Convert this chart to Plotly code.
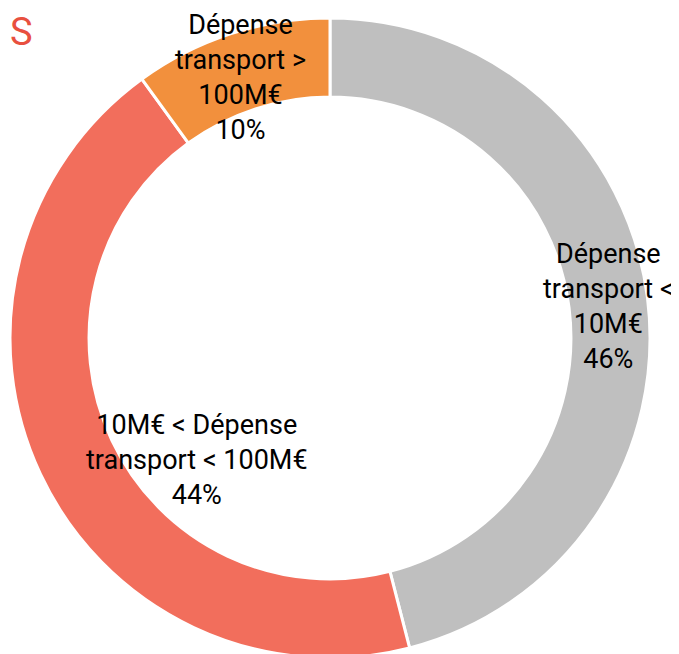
import plotly.graph_objects as go

labels = ["Dépense<br>transport <<br>10M€", "10M€ < Dépense<br>transport < 100M€", "Dépense<br>transport ><br>100M€"]
values = [46, 44, 10]
colors = ["#BFBFBF", "#F26E5C", "#F2903D"]
# label anchor positions (paper fractions) for each slice's text
label_x = [0.885, 0.2784, 0.3417]
label_y = [0.5443, 0.3089, 0.8935]
title_text = "S"

W, H = 679, 654
total = sum(values)

fig = go.Figure(go.Pie(
    labels=labels,
    values=values,
    hole=0.753,
    sort=False,
    direction="clockwise",
    rotation=0,
    marker=dict(colors=colors, line=dict(color="white", width=3)),
    textinfo="none",
    hoverinfo="label+percent",
    showlegend=False,
    domain=dict(x=[2 / W, 642 / W], y=[4 / H, 644 / H]),
))

annotations = []
for lab, v, lx, ly in zip(labels, values, label_x, label_y):
    annotations.append(dict(
        text=f"{lab}<br>{round(100 * v / total)}%",
        xref="paper", yref="paper", x=lx, y=ly,
        xanchor="center", yanchor="middle", showarrow=False,
        font=dict(family="Roboto", size=27, color="black"),
    ))
annotations.append(dict(
    text=title_text, xref="paper", yref="paper", x=0, y=1,
    xanchor="left", yanchor="top", showarrow=False,
    font=dict(family="Roboto", size=38, color="#E8503F"),
))

fig.update_layout(
    width=W, height=H,
    margin=dict(l=0, r=0, t=0, b=0),
    paper_bgcolor="white",
    annotations=annotations,
)
fig.write_html("out.html")
